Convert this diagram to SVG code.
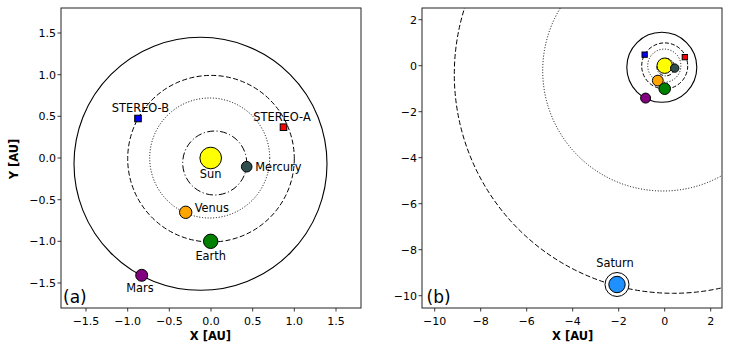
<svg xmlns="http://www.w3.org/2000/svg" width="731" height="352" viewBox="0 0 731 352">
<style>
text{font-family:"DejaVu Sans","Liberation Sans",sans-serif;fill:#000}
.tk{font-size:11px}
.tx{text-anchor:middle}
.ty{text-anchor:end}
.lb{font-size:11.4px}
.ax{font-size:11.5px;font-weight:bold;text-anchor:middle}
.pn{font-size:17px}
.frame{fill:none;stroke:#222;stroke-width:1}
.tick{stroke:#222;stroke-width:0.9}
.orb{fill:none;stroke:#000;stroke-width:1}
.solid{stroke-width:1.1}
.dash{stroke-dasharray:5 2.4}
.dot{stroke-dasharray:1 1.8}
.dd{stroke-dasharray:7 2.4 1.2 2.4}
.m{stroke:#000;stroke-width:1}
</style>
<defs>
<clipPath id="clipB"><rect x="422" y="8" width="300" height="300"/></clipPath>
</defs>
<rect width="731" height="352" fill="#fff"/>

<!-- Panel (a) axes -->
<g id="axes-a">
<rect class="frame" x="61" y="8" width="300" height="300"/>
<g class="tick">
<line x1="86" y1="308" x2="86" y2="311.5"/><line x1="127.7" y1="308" x2="127.7" y2="311.5"/><line x1="169.3" y1="308" x2="169.3" y2="311.5"/><line x1="211" y1="308" x2="211" y2="311.5"/><line x1="252.7" y1="308" x2="252.7" y2="311.5"/><line x1="294.3" y1="308" x2="294.3" y2="311.5"/><line x1="336" y1="308" x2="336" y2="311.5"/>
<line x1="57.5" y1="33" x2="61" y2="33"/><line x1="57.5" y1="74.7" x2="61" y2="74.7"/><line x1="57.5" y1="116.3" x2="61" y2="116.3"/><line x1="57.5" y1="158" x2="61" y2="158"/><line x1="57.5" y1="199.7" x2="61" y2="199.7"/><line x1="57.5" y1="241.3" x2="61" y2="241.3"/><line x1="57.5" y1="283" x2="61" y2="283"/>
</g>
<g class="tk tx">
<text x="86" y="325">−1.5</text><text x="127.7" y="325">−1.0</text><text x="169.3" y="325">−0.5</text><text x="211" y="325">0.0</text><text x="252.7" y="325">0.5</text><text x="294.3" y="325">1.0</text><text x="336" y="325">1.5</text>
</g>
<g class="tk ty">
<text x="56" y="37">1.5</text><text x="56" y="78.7">1.0</text><text x="56" y="120.3">0.5</text><text x="56" y="162">0.0</text><text x="56" y="203.7">−0.5</text><text x="56" y="245.3">−1.0</text><text x="56" y="287">−1.5</text>
</g>
<text class="ax" x="210.5" y="340">X [AU]</text>
<text class="ax" transform="translate(17.5,159) rotate(-90)">Y [AU]</text>
<text class="pn" x="63" y="302.5">(a)</text>
</g>

<!-- Panel (b) axes -->
<g id="axes-b">
<rect class="frame" x="422" y="8" width="300" height="300"/>
<g class="tick">
<line x1="434.7" y1="308" x2="434.7" y2="311.5"/><line x1="480.7" y1="308" x2="480.7" y2="311.5"/><line x1="526.7" y1="308" x2="526.7" y2="311.5"/><line x1="572.7" y1="308" x2="572.7" y2="311.5"/><line x1="618.7" y1="308" x2="618.7" y2="311.5"/><line x1="664.7" y1="308" x2="664.7" y2="311.5"/><line x1="710.7" y1="308" x2="710.7" y2="311.5"/>
<line x1="418.5" y1="19.7" x2="422" y2="19.7"/><line x1="418.5" y1="65.7" x2="422" y2="65.7"/><line x1="418.5" y1="111.7" x2="422" y2="111.7"/><line x1="418.5" y1="157.7" x2="422" y2="157.7"/><line x1="418.5" y1="203.7" x2="422" y2="203.7"/><line x1="418.5" y1="249.7" x2="422" y2="249.7"/><line x1="418.5" y1="295.7" x2="422" y2="295.7"/>
</g>
<g class="tk tx">
<text x="434.7" y="325">−10</text><text x="480.7" y="325">−8</text><text x="526.7" y="325">−6</text><text x="572.7" y="325">−4</text><text x="618.7" y="325">−2</text><text x="664.7" y="325">0</text><text x="710.7" y="325">2</text>
</g>
<g class="tk ty">
<text x="417" y="23.7">2</text><text x="417" y="69.7">0</text><text x="417" y="115.7">−2</text><text x="417" y="161.7">−4</text><text x="417" y="207.7">−6</text><text x="417" y="253.7">−8</text><text x="417" y="299.7">−10</text>
</g>
<text class="ax" x="572.7" y="340">X [AU]</text>
<text class="pn" x="426.5" y="302.5">(b)</text>
</g>

<!-- Orbits (connectors) -->
<g id="orbits">
<circle class="orb dd" cx="214.7" cy="163" r="32"/>
<circle class="orb dot" cx="209.7" cy="158" r="60"/>
<circle class="orb dash" cx="211" cy="158.7" r="83.3"/>
<circle class="orb solid" cx="200.5" cy="163.8" r="126.5"/>
<g clip-path="url(#clipB)">
<circle class="orb dot" cx="663" cy="70.7" r="120.3"/>
<circle class="orb dash" cx="673.3" cy="74.3" r="219"/>
</g>
<circle class="orb dd" cx="665.7" cy="67.1" r="8.8" style="stroke-dasharray:4 1.6 1 1.6"/>
<circle class="orb dot" cx="664.3" cy="65.7" r="16.6"/>
<circle class="orb dash" cx="664.7" cy="65.9" r="23" style="stroke-dasharray:4 2"/>
<circle class="orb solid" cx="661.8" cy="67.3" r="35"/>
</g>

<!-- Panel (a) bodies -->
<g id="sun-a"><circle class="m" cx="210.7" cy="158" r="10.8" fill="#ffff00"/><text class="lb tx" x="210.7" y="178">Sun</text></g>
<g id="mercury-a"><circle class="m" cx="246.7" cy="166.7" r="5.3" fill="#2f4f4f"/><text class="lb" x="255.3" y="170.7">Mercury</text></g>
<g id="venus-a"><circle class="m" cx="185.7" cy="212.3" r="6.2" fill="#ffa500"/><text class="lb" x="194.7" y="212.3">Venus</text></g>
<g id="earth-a"><circle class="m" cx="210.7" cy="241.3" r="7.2" fill="#008000"/><text class="lb tx" x="210.7" y="260">Earth</text></g>
<g id="mars-a"><circle class="m" cx="141.7" cy="275.3" r="6" fill="#800080"/><text class="lb tx" x="140" y="292.3">Mars</text></g>
<g id="stereo-b-a"><rect class="m" x="134.7" y="115.2" width="6.6" height="6.6" fill="#0000ff"/><text class="lb tx" x="140.5" y="112.3">STEREO-B</text></g>
<g id="stereo-a-a"><rect class="m" x="280.2" y="123.9" width="6.6" height="6.6" fill="#ff0000"/><text class="lb tx" x="282" y="121.3">STEREO-A</text></g>

<!-- Panel (b) bodies -->
<g id="sun-b"><circle class="m" cx="664.7" cy="65.7" r="7.7" fill="#ffff00"/></g>
<g id="mercury-b"><circle class="m" cx="674.7" cy="68.1" r="4.2" fill="#2f4f4f"/></g>
<g id="venus-b"><circle class="m" cx="657.8" cy="80.6" r="5.4" fill="#ffa500"/></g>
<g id="earth-b"><circle class="m" cx="664.7" cy="88.7" r="5.8" fill="#008000"/></g>
<g id="mars-b"><circle class="m" cx="645.6" cy="98.1" r="5" fill="#800080"/></g>
<g id="stereo-b-b"><rect class="m" x="642" y="52" width="5.3" height="5.3" fill="#0000ff"/></g>
<g id="stereo-a-b"><rect class="m" x="682.2" y="54.5" width="5.3" height="5.3" fill="#ff0000"/></g>
<g id="saturn-b"><circle class="m" cx="617" cy="284.5" r="12" fill="#fff"/><circle class="m" cx="617" cy="284.5" r="8.2" fill="#1e90ff"/><text class="lb tx" x="615" y="267">Saturn</text></g>
</svg>
